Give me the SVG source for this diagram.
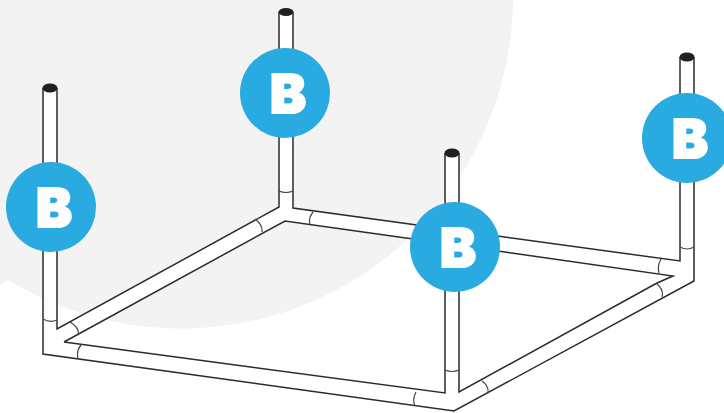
<svg xmlns="http://www.w3.org/2000/svg" width="724" height="413" viewBox="0 0 724 413">
<style>
.ln{fill:none;stroke:#2b2b2b;stroke-width:1.5;stroke-linejoin:miter}
.jt{fill:none;stroke:#444;stroke-width:1.2}
.wt{fill:#fff}
.cap{fill:#231f20}
.bub{fill:#29abe2}
.lb{font-family:"Inter","Liberation Sans",sans-serif;font-weight:900;font-size:54px;fill:#fff;stroke:#fff;stroke-width:2;stroke-linejoin:miter;text-anchor:middle}
</style>
<rect width="724" height="413" fill="#fff"/>
<path id="backdrop" d="M0 0H513A332 332 0 0 1 8 280L0 285Z" fill="#f3f3f3"/>
<g id="frame">
<path class="wt" d="M43 88H57V329L279 207V12H293V208L680 261V57H694V281L454 411L43 354ZM64 342L657 283L673 276L285 221Z" fill-rule="evenodd"/>
<path class="wt" d="M64 342L445 393V380H459V392L657 283L694 281L454 411L43 354Z"/>
<rect class="wt" x="445" y="153" width="14" height="240"/>
<path class="wt" d="M43 320L57 329L64 342L43 354ZM279 207L293 208L285 221ZM680 261L694 281L673 276Z"/>
<path class="ln" d="M43 88V354L454 411L694 281V57M57 88V329L279 207V12M293 12V208L680 261V57M64 342L285 221L445 243.5M459 245.5L673 276L657 283L459 392V153M445 153V393L64 342"/>
<path class="jt" d="M43 319Q50 323 57 320M279 191Q286 194 293 191M445 370Q452 373 459 370M680 247Q687 251 694 247M70 322Q80 328 78 335M255 219Q263 225 262 232M313 212Q308 218 310 224M81 345Q76 351 78 358M416 392Q412 399 415 406M482 381Q489 386 488 393M661 259Q657 266 659 273M657 284Q664 290 662 297"/>
<ellipse class="cap" cx="50" cy="88" rx="7.5" ry="4.5"/>
<ellipse class="cap" cx="286" cy="12" rx="7.5" ry="4"/>
<ellipse class="cap" cx="452" cy="153" rx="7.5" ry="4.5"/>
<ellipse class="cap" cx="687" cy="57" rx="7.5" ry="4.5"/>
</g>
<g id="b-left"><circle class="bub" cx="51" cy="207" r="45"/><text class="lb" x="54" y="227">B</text></g>
<g id="b-back"><circle class="bub" cx="285" cy="93" r="45"/><text class="lb" x="288" y="113">B</text></g>
<g id="b-front"><circle class="bub" cx="455" cy="247" r="45"/><text class="lb" x="458" y="267">B</text></g>
<g id="b-right"><circle class="bub" cx="687" cy="138" r="45"/><text class="lb" x="690" y="158">B</text></g>
</svg>
